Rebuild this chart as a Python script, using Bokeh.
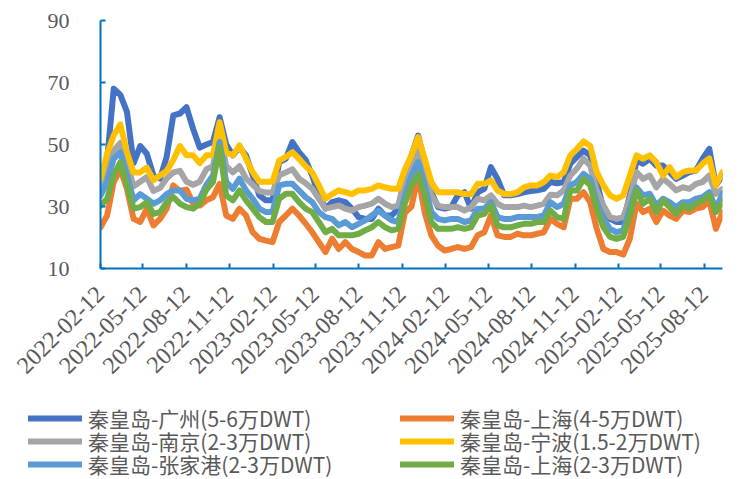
import math
import pandas as pd
from bokeh.plotting import figure
from bokeh.models import Range1d, FixedTicker, Legend, LegendItem, ColumnDataSource
from bokeh.embed import file_html
from bokeh.resources import INLINE

# ---- data (biweekly readings) ----
start_date = "2022-02-12"
end_date = "2025-09-20"
n_points = 95
dates = pd.date_range(start_date, periods=n_points, freq="14D")

tick_labels = ["2022-02-12", "2022-05-12", "2022-08-12", "2022-11-12",
               "2023-02-12", "2023-05-12", "2023-08-12", "2023-11-12",
               "2024-02-12", "2024-05-12", "2024-08-12", "2024-11-12",
               "2025-02-12", "2025-05-12", "2025-08-12"]
y_ticks = [10, 30, 50, 70, 90]

names = ["秦皇岛-广州(5-6万DWT)", "秦皇岛-上海(4-5万DWT)",
         "秦皇岛-南京(2-3万DWT)", "秦皇岛-宁波(1.5-2万DWT)",
         "秦皇岛-张家港(2-3万DWT)", "秦皇岛-上海(2-3万DWT)"]
colors = ["#4472C4", "#ED7D31", "#A5A5A5", "#FFC000", "#5B9BD5", "#70AD47"]

guangzhou = [36, 45, 68, 66, 60.5, 44, 49.5, 47, 40, 39, 46, 59.4, 60, 62, 55, 49, 50,
             50.8, 58.8, 50, 46.5, 49.1, 46.5, 40, 33.6, 32, 32, 44.3, 45.4, 50.8, 47.5, 45,
             40, 33.6, 29.3, 31.4, 32, 31.4, 29.3, 26.6, 26, 26, 29.3, 27.1, 27.1, 29.3, 40,
             46.5, 52.9, 44.3, 34.6, 29.8, 29.3, 29.8, 33.6, 34.6, 29.3, 34.6, 35.7, 42.7, 38.9, 33.6, 33.6,
             34, 34.6, 35, 35.2, 35.7, 37.9, 37.5, 37.9, 43.8, 46, 48, 46.5, 37.9, 29.3, 26,
             25, 25, 33.6, 44.8, 43.8, 45.4, 43.2, 43.2, 41.1, 38.9, 40, 41.1, 41.6, 45.4, 48.6, 36.8, 40]
shanghai_45 = [23.3, 27.1, 37.9, 42, 35.7, 26, 25, 29.3, 23.9, 26, 29.3, 36.8, 35, 35.5, 31, 30.3, 32,
               33, 37.3, 27.1, 26, 29.3, 27.1, 21.7, 19.6, 19, 18.5, 25, 27.1, 29.3, 27.1, 24.5,
               21.7, 18.5, 15.3, 19.6, 16.3, 18.5, 16.3, 15.3, 14.2, 14.2, 18.5, 16.3, 16.9, 17.4, 28,
               30, 40, 28, 20.7, 17.4, 15.8, 16.3, 16.9, 16.3, 16.9, 20.7, 21.7, 27.1, 20.7, 20.2, 20.2,
               21.2, 20.7, 20.7, 21.2, 21.7, 26, 24.4, 23.3, 32.5, 32.5, 34.6, 31.4, 22.8, 16.3, 15.3,
               15.3, 14.5, 19.6, 31, 28.2, 29.3, 25, 28.7, 27.1, 26, 28.7, 28.2, 29.3, 29.8, 32, 22.8, 28.2]
nanjing = [35.5, 40, 48, 50.5, 44, 36.5, 38, 39.5, 35, 36, 39, 41, 41.5, 38, 37, 38, 42,
           43, 54, 43, 41, 43, 39, 37, 35, 34.5, 34.5, 40, 41, 42, 39, 37.5,
           35.7, 32.5, 29.3, 29.8, 30.3, 29.3, 28.7, 29.8, 30.3, 30.9, 32.5, 30.9, 29.8, 30.3, 38.5,
           43.2, 48.6, 41, 33.6, 30.3, 29.8, 29.8, 29.8, 28.7, 29.8, 32.5, 32, 33.6, 30.9, 29.8, 29.8,
           29.8, 30.3, 29.8, 30.3, 30.9, 33.8, 33.6, 35.2, 40, 42.2, 45.4, 43.2, 35.2, 30.3, 26.6,
           26, 26.6, 32.5, 41.1, 38.9, 40, 36.2, 38.9, 37.3, 35.2, 36.2, 35.7, 37.3, 37.9, 40, 34.1, 35.7]
ningbo = [39, 47, 53, 56.5, 47.5, 41, 41, 42.5, 38.5, 40, 41.5, 45, 49.5, 46.5, 46.5, 44, 46.5,
          46.5, 57.2, 47.5, 46.5, 49.7, 45.4, 41.1, 38, 38, 38, 44.8, 46, 47.5, 45.4, 43,
          41, 36.8, 32.5, 34, 35.2, 34.6, 34, 35.2, 35.2, 35.7, 36.8, 36.2, 35.7, 35.7, 42,
          46.5, 52.4, 45.4, 37.9, 34.6, 34.6, 34.6, 34.6, 34, 34, 37.3, 37.3, 38.4, 35.2, 34, 34,
          34.6, 36.2, 36.8, 36.8, 37.9, 40, 39.5, 41.1, 46.5, 48.6, 51, 49.5, 41.1, 36.8, 33.6,
          32.5, 33.6, 40, 46.5, 45.4, 46.5, 44.3, 40, 42.7, 39.5, 41.1, 41.6, 41.6, 43.8, 45.5, 36.8, 41.1]
zhangjiagang = [33.5, 38, 45.4, 47.5, 40, 32, 34, 32.5, 30.9, 32, 34, 35.2, 35.2, 32.5, 32, 32.5, 37,
                40, 50.8, 37.9, 35.7, 39, 35.2, 32.5, 29.3, 28.2, 28.2, 36.8, 37.3, 37.3, 35.2, 33,
                31.4, 28.2, 26.6, 26, 23.9, 25, 23.3, 24.4, 25.5, 27.1, 28.7, 27.1, 25.5, 25, 33.5,
                40, 44.3, 36.8, 28.2, 26, 25.5, 26, 26, 25, 25.5, 29.3, 29.3, 31.4, 26.6, 26, 26,
                26.6, 26.6, 26.6, 26.6, 27.1, 31.4, 29.8, 30.9, 36.8, 37.9, 40.5, 38.9, 31.4, 26, 22.8,
                21.7, 22.3, 29.3, 36.2, 33.6, 34.1, 30.3, 32.5, 31.4, 29.8, 31.4, 31.4, 32.5, 33, 34.6, 29.3, 34.1]
shanghai_23 = [30.3, 32.5, 40, 44.3, 36.8, 29.3, 29.8, 31.4, 27.6, 28.2, 31.4, 33, 30.9, 29.8, 29.3, 30.9, 35.5,
               37.9, 49.1, 33.6, 32, 35.2, 32, 29.3, 26.6, 25, 25, 32.5, 34.1, 34.1, 31.4, 29.3,
               28.2, 25, 21.7, 22.8, 20.7, 20.7, 20.7, 21.2, 22.3, 23.3, 25, 23.3, 22.3, 22.8, 31,
               36.8, 40.5, 33.6, 25, 22.8, 22.8, 22.8, 23.3, 22.8, 23.3, 27.1, 27.6, 30.3, 23.9, 23.3, 23.3,
               23.9, 24.4, 24.4, 25, 25, 28.7, 26.6, 26, 35.2, 35.2, 38.9, 36.8, 29.3, 23.3, 20.2,
               19.6, 20.2, 27.1, 35.2, 30.9, 32.5, 28.2, 32, 29.8, 27.6, 30.3, 29.3, 30.9, 32, 33.6, 28.2, 31.4]

series = [guangzhou, shanghai_45, nanjing, ningbo, zhangjiagang, shanghai_23]

axis_color = "#0070C0"
label_color = "#595959"

# ---- main chart ----
main = figure(width=742, height=395, output_backend="svg", toolbar_location=None,
              x_axis_type="datetime",
              x_range=Range1d(pd.Timestamp(start_date), pd.Timestamp(end_date)),
              y_range=Range1d(10, 90),
              min_border_left=100, min_border_right=20, min_border_top=20,
              min_border_bottom=127)
main.grid.visible = False
main.outline_line_color = None

for vals, c in zip(series, colors):
    src = ColumnDataSource(dict(x=dates[:len(vals)], y=vals))
    main.line("x", "y", source=src, line_color=c, line_width=6,
              line_join="round", line_cap="round")

tick_ms = [pd.Timestamp(t).value / 1e6 for t in tick_labels]
main.xaxis.ticker = FixedTicker(ticks=tick_ms)
main.xaxis.major_label_overrides = {ms: lab for ms, lab in zip(tick_ms, tick_labels)}
main.xaxis.major_label_orientation = math.pi / 4
main.xaxis.minor_tick_line_color = None
main.xaxis.major_tick_in = 5
main.xaxis.major_tick_out = 0
main.xaxis.major_label_standoff = 22
main.xaxis.major_label_text_font_size = "24px"

main.yaxis.ticker = FixedTicker(ticks=y_ticks)
main.yaxis.minor_tick_line_color = None
main.yaxis.major_tick_in = 5
main.yaxis.major_tick_out = 0
main.yaxis.major_label_standoff = 31
main.yaxis.major_label_text_font_size = "22px"

for ax in (main.xaxis[0], main.yaxis[0]):
    ax.axis_line_color = axis_color
    ax.axis_line_width = 2
    ax.major_tick_line_color = axis_color
    ax.major_tick_line_width = 2
    ax.major_label_text_color = label_color
    ax.major_label_text_font = "Liberation Serif"

# ---- legend strip (series drawn outside its visible range, only keys show) ----
leg_fig = figure(width=742, height=84, output_backend="svg", toolbar_location=None,
                 x_axis_type="datetime", x_axis_location=None, y_axis_location=None,
                 x_range=Range1d(pd.Timestamp(start_date), pd.Timestamp(end_date)),
                 y_range=Range1d(1000, 1001),
                 min_border=0, min_border_left=0, min_border_right=0,
                 min_border_top=0, min_border_bottom=0)
leg_fig.grid.visible = False
leg_fig.outline_line_color = None

key_renderers = []
for vals, c in zip(series, colors):
    src = ColumnDataSource(dict(x=dates[:len(vals)], y=vals))
    key_renderers.append(leg_fig.line("x", "y", source=src, line_color=c, line_width=6,
                                      line_cap="round"))

col_x = [28, 400]
row_y = [46, 23, 0]
for i, name in enumerate(names):
    leg = Legend(items=[LegendItem(label=name, renderers=[key_renderers[i]])],
                 location=(col_x[i % 2], row_y[i // 2]),
                 background_fill_alpha=0, border_line_color=None,
                 padding=0, spacing=0, margin=0,
                 glyph_width=54, glyph_height=22, label_height=22,
                 label_standoff=6,
                 label_text_font="Noto Sans CJK SC", label_text_font_size="21px",
                 label_text_color=label_color)
    leg_fig.add_layout(leg)

p = [main, leg_fig]
open("out.html", "w").write(file_html(p, INLINE))
